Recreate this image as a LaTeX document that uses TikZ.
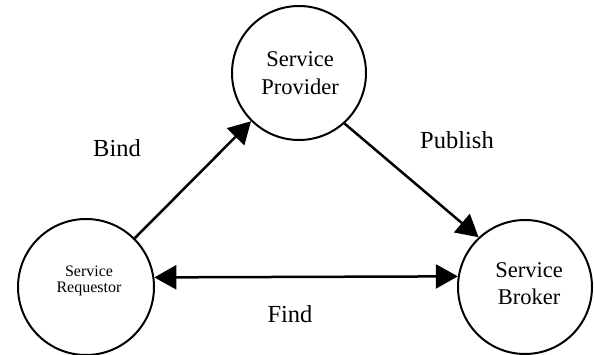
\documentclass[tikz,border=0pt]{standalone}
\usepackage{fontspec}
\setmainfont{Liberation Serif}
\usetikzlibrary{arrows.meta}
\begin{document}
\begin{tikzpicture}[x=1pt,y=-1pt,
  svc/.style={draw=black, line width=2pt, circle, minimum size=#1, inner sep=0pt},
  bigtxt/.style={align=center, font=\fontsize{22.5}{27.5}\selectfont},
  smalltxt/.style={align=center, font=\fontsize{16}{15.5}\selectfont},
  lbl/.style={anchor=base, font=\fontsize{24.5}{29}\selectfont},
  tip/.style={},
  conn/.style={line width=2.5pt, -{Triangle[length=22pt,width=24pt]}},
  conn2/.style={line width=2.5pt, {Triangle[length=22pt,width=24pt]}-{Triangle[length=22pt,width=24pt]}}
]
\useasboundingbox (0,0) rectangle (594,355);
\fill[white] (0,0) rectangle (594,355);

\node[svc=134pt] (prov) at (299,73) {};
\node[svc=136pt] (req) at (86,287) {};
\node[svc=134pt] (brok) at (525,287) {};

\node[bigtxt] (provtxt) at (300,73) {Service\\Provider};
\node[bigtxt] (broktxt) at (529,283.5) {Service\\Broker};
\node[smalltxt] (reqtxt) at (89,281) {Service\\Requestor};

\draw[conn] (req.45) -- (prov);
\draw[conn] (prov.-48) -- (brok.133);
\draw[conn2] (req.8.5) -- (brok.171.5);

\node[lbl] (bind) at (117,157) {Bind};
\node[lbl] (publish) at (457,149) {Publish};
\node[lbl] (find) at (290,322) {Find};
\end{tikzpicture}
\end{document}
